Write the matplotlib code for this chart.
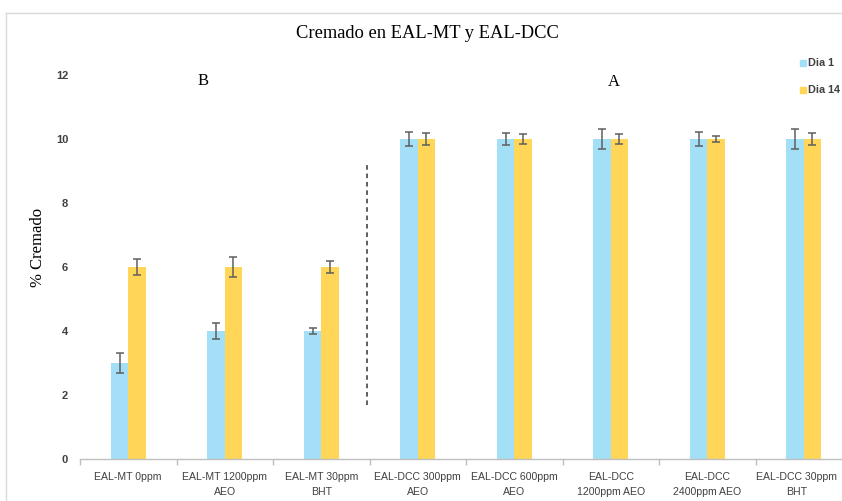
import matplotlib
matplotlib.use("Agg")
import matplotlib.pyplot as plt
from matplotlib.lines import Line2D
import numpy as np

categories = [
    "EAL-MT 0ppm",
    "EAL-MT 1200ppm\nAEO",
    "EAL-MT 30ppm\nBHT",
    "EAL-DCC 300ppm\nAEO",
    "EAL-DCC 600ppm\nAEO",
    "EAL-DCC\n1200ppm AEO",
    "EAL-DCC\n2400ppm AEO",
    "EAL-DCC 30ppm\nBHT",
]
dia1 = [3, 4, 4, 10, 10, 10, 10, 10]
dia1_err = [0.3, 0.26, 0.1, 0.22, 0.18, 0.3, 0.22, 0.3]
dia14 = [6, 6, 6, 10, 10, 10, 10, 10]
dia14_err = [0.25, 0.3, 0.2, 0.2, 0.15, 0.15, 0.1, 0.2]
yticks = [0, 2, 4, 6, 8, 10, 12]

BLUE = "#A3E0F7"
YELLOW = "#FFD658"
TXT = "#404040"
SANS = ["Liberation Sans", "DejaVu Sans"]
SERIF = ["Liberation Serif", "DejaVu Serif"]

W, H = 842, 501
fig = plt.figure(figsize=(W / 100, H / 100), dpi=100)
fig.patch.set_facecolor("white")

# axes extend slightly past the right edge of the figure
left, right, top, bottom = 80, 852, 75, 459
ax = fig.add_axes([left / W, 1 - bottom / H, (right - left) / W, (bottom - top) / H])

x = np.arange(len(categories))
bw = 0.18
err_kw = dict(ecolor="#5f5f5f", elinewidth=1.1, capsize=3, capthick=1.1)
ax.bar(x - bw / 2, dia1, bw, color=BLUE, yerr=dia1_err, error_kw=err_kw, label="Dia 1")
ax.bar(x + bw / 2, dia14, bw, color=YELLOW, yerr=dia14_err, error_kw=err_kw, label="Dia 14")

ax.set_xlim(-0.5, len(categories) - 0.5)
ax.set_ylim(0, 12)
ax.set_yticks(yticks)
ax.set_yticklabels([str(v) for v in yticks], fontsize=8, color=TXT,
                   fontweight="bold", family=SANS)
ax.tick_params(axis="y", length=0, pad=8.5)

# label positions: the last one is nudged left so it stays inside the border
label_pos = x.astype(float)
label_pos[-1] -= 0.07
ax.set_xticks(label_pos)
ax.set_xticklabels(categories, fontsize=7.6, color=TXT, family=SANS, linespacing=1.7)
ax.tick_params(axis="x", which="major", length=0, pad=9)
ax.set_xticks(np.arange(len(categories) + 1) - 0.5, minor=True)
ax.tick_params(axis="x", which="minor", length=4, color="#BFBFBF", width=1)

for s in ["top", "right", "left"]:
    ax.spines[s].set_visible(False)
ax.spines["bottom"].set_color("#BFBFBF")
ax.spines["bottom"].set_linewidth(1)

# separator between the two emulsion groups
ax.plot([2.47, 2.47], [1.7, 9.2], color="#333333", linestyle=(0, (3, 2.5)),
        linewidth=1.1)

# group letters
ax.text(0.77, 11.8, "B", fontsize=12, family=SERIF, ha="center", va="center")
ax.text(5.03, 11.78, "A", fontsize=12, family=SERIF, ha="center", va="center")

ax.set_ylabel("% Cremado", fontsize=12, family=SERIF, labelpad=0)
ax.yaxis.set_label_coords(-(80 - 46) / (right - left), (459 - 247) / (bottom - top))

fig.text(427 / W, 1 - 33 / H, "Cremado en EAL-MT y EAL-DCC", fontsize=13.3,
         family=SERIF, ha="center", va="center")

# legend entries
for yy, col, lab in [(63, BLUE, "Dia 1"), (90, YELLOW, "Dia 14")]:
    fig.patches.append(plt.Rectangle((800 / W, 1 - (yy + 3) / H), 6 / W, 6 / H,
                                     color=col, transform=fig.transFigure))
    fig.text(808 / W, 1 - yy / H, lab, fontsize=7.8, fontweight="bold",
             color=TXT, family=SANS, ha="left", va="center")

# light frame around the chart area
fig.add_artist(Line2D([6 / W, 1], [1 - 13 / H, 1 - 13 / H], color="#DADADA",
                      linewidth=1, transform=fig.transFigure))
fig.add_artist(Line2D([6 / W, 6 / W], [0, 1 - 13 / H], color="#DADADA",
                      linewidth=1, transform=fig.transFigure))

fig.savefig("out.png", dpi=100)
